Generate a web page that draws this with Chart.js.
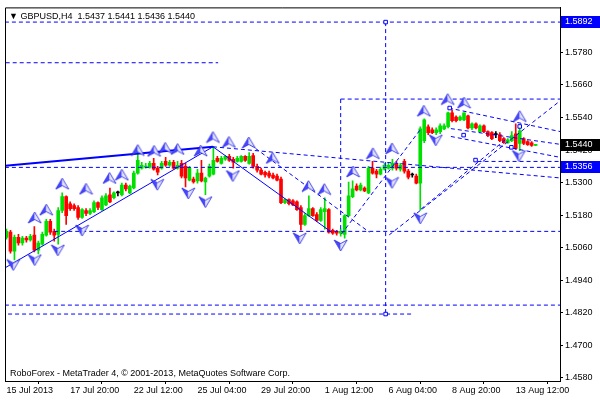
<!DOCTYPE html>
<html>
<head>
<meta charset="utf-8">
<script src="https://cdn.jsdelivr.net/npm/chart.js@4.4.0/dist/chart.umd.min.js"></script>
<style>
  html, body { margin:0; padding:0; background:#fff; }
  #wrap { position:relative; width:600px; height:400px; }
</style>
</head>
<body>
<div id="wrap"><canvas id="c" width="600" height="400"></canvas></div>
<script>
// GBPUSD H4, one entry per bar (bar index 0 = 15 Jul 2013 00:00)
const opens = [
  1.5098,1.5117,1.5047,1.5098,1.5077,1.5095,1.5088,1.5106,1.5051,1.5073,
  1.5106,1.5157,1.5120,1.5109,1.5197,1.5248,1.5222,1.5215,1.5208,1.5171,
  1.5197,1.5186,1.5193,1.5226,1.5200,1.5218,1.5255,1.5244,1.5262,1.5255,
  1.5291,1.5262,1.5280,1.5335,1.5353,1.5357,1.5357,1.5371,1.5353,1.5353,
  1.5378,1.5364,1.5375,1.5353,1.5371,1.5360,1.5309,1.5313,1.5306,1.5335,
  1.5302,1.5324,1.5331,1.5389,1.5371,1.5386,1.5397,1.5386,1.5378,1.5378,
  1.5397,1.5371,1.5400,1.5360,1.5346,1.5338,1.5335,1.5328,1.5324,1.5313,
  1.5226,1.5237,1.5233,1.5229,1.5208,1.5146,1.5178,1.5204,1.5182,1.5160,
  1.5193,1.5200,1.5124,1.5120,1.5113,1.5109,1.5178,1.5248,1.5287,1.5273,
  1.5280,1.5262,1.5353,1.5342,1.5331,1.5349,1.5353,1.5353,1.5368,1.5349,
  1.5378,1.5342,1.5328,1.5324,1.5298,1.5455,1.5506,1.5495,1.5484,1.5488,
  1.5498,1.5506,1.5557,1.5542,1.5531,1.5531,1.5546,1.5502,1.5517,1.5488,
  1.5509,1.5488,1.5484,1.5477,1.5477,1.5462,1.5447,1.5455,1.5480,1.5444,
  1.5462,1.5451,1.5447,1.5437
];
const highs = [
  1.5128,1.5124,1.5106,1.5109,1.5102,1.5102,1.5109,1.5138,1.5084,1.5117,
  1.5164,1.5164,1.5128,1.5208,1.5262,1.5251,1.5229,1.5222,1.5215,1.5204,
  1.5204,1.5204,1.5233,1.5229,1.5251,1.5259,1.5280,1.5266,1.5269,1.5298,
  1.5298,1.5291,1.5342,1.5418,1.5375,1.5371,1.5378,1.5389,1.5360,1.5378,
  1.5393,1.5382,1.5382,1.5378,1.5382,1.5371,1.5360,1.5320,1.5349,1.5382,
  1.5320,1.5368,1.5433,1.5397,1.5397,1.5400,1.5404,1.5393,1.5397,1.5400,
  1.5400,1.5411,1.5408,1.5368,1.5353,1.5342,1.5342,1.5335,1.5331,1.5320,
  1.5240,1.5240,1.5237,1.5233,1.5215,1.5186,1.5251,1.5208,1.5189,1.5208,
  1.5244,1.5204,1.5128,1.5124,1.5128,1.5182,1.5302,1.5306,1.5295,1.5298,
  1.5284,1.5360,1.5378,1.5349,1.5357,1.5371,1.5371,1.5386,1.5378,1.5371,
  1.5386,1.5349,1.5335,1.5331,1.5506,1.5535,1.5513,1.5502,1.5502,1.5517,
  1.5517,1.5560,1.5568,1.5546,1.5546,1.5557,1.5549,1.5520,1.5520,1.5513,
  1.5513,1.5491,1.5488,1.5488,1.5484,1.5466,1.5462,1.5488,1.5517,1.5513,
  1.5466,1.5455,1.5451,1.5441
];
const lows = [
  1.5091,1.5040,1.5015,1.5069,1.5069,1.5080,1.5084,1.5044,1.5037,1.5069,
  1.5102,1.5109,1.5084,1.5073,1.5189,1.5146,1.5197,1.5197,1.5164,1.5168,
  1.5178,1.5182,1.5189,1.5200,1.5197,1.5215,1.5226,1.5240,1.5251,1.5251,
  1.5269,1.5259,1.5277,1.5331,1.5349,1.5353,1.5353,1.5346,1.5328,1.5349,
  1.5360,1.5360,1.5349,1.5349,1.5317,1.5284,1.5306,1.5298,1.5298,1.5302,
  1.5255,1.5320,1.5328,1.5375,1.5368,1.5382,1.5378,1.5353,1.5375,1.5375,
  1.5378,1.5368,1.5353,1.5338,1.5328,1.5320,1.5317,1.5313,1.5306,1.5222,
  1.5222,1.5218,1.5215,1.5197,1.5124,1.5142,1.5175,1.5175,1.5157,1.5157,
  1.5128,1.5113,1.5109,1.5106,1.5102,1.5095,1.5175,1.5244,1.5269,1.5269,
  1.5266,1.5259,1.5331,1.5317,1.5328,1.5346,1.5349,1.5346,1.5346,1.5342,
  1.5335,1.5313,1.5320,1.5295,1.5197,1.5447,1.5477,1.5480,1.5477,1.5480,
  1.5495,1.5502,1.5524,1.5524,1.5528,1.5528,1.5498,1.5495,1.5498,1.5484,
  1.5484,1.5469,1.5458,1.5466,1.5451,1.5444,1.5444,1.5451,1.5422,1.5418,
  1.5440,1.5437,1.5433,1.5436
];
const closes = [
  1.5120,1.5047,1.5098,1.5077,1.5095,1.5088,1.5102,1.5051,1.5077,1.5109,
  1.5157,1.5117,1.5106,1.5197,1.5248,1.5178,1.5204,1.5204,1.5171,1.5200,
  1.5186,1.5197,1.5226,1.5208,1.5244,1.5251,1.5229,1.5262,1.5262,1.5291,
  1.5277,1.5287,1.5335,1.5382,1.5364,1.5360,1.5371,1.5349,1.5338,1.5371,
  1.5364,1.5375,1.5353,1.5364,1.5324,1.5317,1.5353,1.5302,1.5335,1.5306,
  1.5317,1.5360,1.5382,1.5378,1.5389,1.5397,1.5382,1.5375,1.5389,1.5397,
  1.5382,1.5397,1.5360,1.5346,1.5331,1.5328,1.5324,1.5317,1.5309,1.5226,
  1.5237,1.5222,1.5218,1.5200,1.5146,1.5178,1.5204,1.5178,1.5160,1.5200,
  1.5204,1.5117,1.5113,1.5113,1.5120,1.5178,1.5251,1.5277,1.5273,1.5291,
  1.5269,1.5353,1.5335,1.5331,1.5349,1.5364,1.5364,1.5371,1.5353,1.5364,
  1.5342,1.5320,1.5328,1.5298,1.5498,1.5531,1.5484,1.5484,1.5495,1.5509,
  1.5509,1.5557,1.5528,1.5528,1.5542,1.5557,1.5502,1.5517,1.5502,1.5509,
  1.5488,1.5473,1.5462,1.5477,1.5455,1.5447,1.5458,1.5473,1.5426,1.5491,
  1.5444,1.5440,1.5437,1.5440
];

const timeTicks  = [0, 16, 32, 48, 64, 80, 96, 112, 128];
const timeLabels = ["15 Jul 2013","17 Jul 20:00","22 Jul 12:00","25 Jul 04:00","29 Jul 20:00",
                    "1 Aug 12:00","6 Aug 04:00","8 Aug 20:00","13 Aug 12:00"];
const priceTicks = [1.4580,1.4700,1.4820,1.4940,1.5060,1.5180,1.5300,1.5420,1.5540,1.5660,1.5780];

// analysis objects, [bar, price]
const upArrows = [
  [7.1,1.5171],[10,1.5200],[14,1.5296],[20,1.5277],[25.9,1.5317],[29,1.5329],
  [33,1.5420],[37.1,1.5417],[39.9,1.5428],[43,1.5424],[48.8,1.5418],[51.9,1.5468],
  [55.9,1.5450],[60.9,1.5448],[66.9,1.5391],[75.9,1.5287],[79.9,1.5276],[87.1,1.5341],
  [92.1,1.5408],[96.9,1.5426],[104.9,1.5565],[110.9,1.5608],[115,1.5595],[129,1.5545]
];
const downArrows = [
  [1.7,1.4996],[7.1,1.5014],[12.9,1.5050],[19,1.5123],[37.9,1.5292],[45.7,1.5260],
  [50,1.5228],[56.9,1.5324],[73.7,1.5094],[84,1.5068],[96.9,1.5299],[104,1.5168],
  [107.9,1.5456],[128.8,1.5398]
];
const anchors = [
  [95.3,1.5892],[95.3,1.4815],[111.4,1.5575],[114.9,1.5475],[117.9,1.5383],[126.9,1.5430],[129,1.5507]
];
const solidLines = [
  [[-0.3,1.5362],[51.9,1.5432]],
  [[-0.3,1.4986],[51.9,1.5432]],
  [[51.9,1.5432],[81.7,1.5117]]
];
const dashedLines = [
  [[-0.4,1.5892],[139.2,1.5892]],
  [[-0.2,1.5742],[53.2,1.5742]],
  [[95.3,1.5892],[95.3,1.4815]],
  [[0.4,1.4815],[102.2,1.4815]],
  [[-0.4,1.4848],[139.2,1.4848]],
  [[12,1.5120],[139.2,1.5120]],
  [[-0.4,1.5356],[139.2,1.5356]],
  [[84,1.5608],[139.2,1.5608]],
  [[84,1.5608],[84,1.5120]],
  [[51.9,1.5432],[139.2,1.5317]],
  [[96.2,1.5107],[139.2,1.5602]],
  [[61.2,1.5441],[91.2,1.5117]],
  [[84.2,1.5110],[104.2,1.5499]],
  [[111.2,1.5575],[139.2,1.5488]],
  [[111.7,1.5499],[139.2,1.5441]],
  [[111.7,1.5470],[139.2,1.5393]],
  [[118.4,1.5378],[139.2,1.5378]],
  [[104.2,1.5202],[125.8,1.5463]]
];
const priceBoxes = [[1.5892,"#0000ff"],[1.5356,"#0000ff"],[1.5440,"#000000"]];
const titleText = "GBPUSD,H4  1.5437 1.5441 1.5436 1.5440";
const footText  = "RoboForex - MetaTrader 4, \u00a9 2001-2013, MetaQuotes Software Corp.";

const FONT = "9px 'Liberation Sans', Arial, sans-serif";
const BLUE = "#0000ff";

function candleColor(i) {
  if (closes[i] > opens[i]) return "#00e000";
  if (closes[i] < opens[i]) return "#ff0000";
  return "#000000";
}

function makeArrow(up) {
  const c = document.createElement("canvas");
  c.width = 15; c.height = 13;
  const g = c.getContext("2d");
  if (!up) { g.translate(0, 13); g.scale(1, -1); }
  g.beginPath(); g.moveTo(7.5,1); g.lineTo(1,12); g.lineTo(7.5,8.5); g.closePath();
  g.fillStyle = "#4848ff"; g.fill();
  g.beginPath(); g.moveTo(7.5,1); g.lineTo(14,12); g.lineTo(7.5,8.5); g.closePath();
  g.fillStyle = "#e4e4ff"; g.fill();
  g.beginPath(); g.moveTo(7.5,1); g.lineTo(14,12); g.lineTo(7.5,8.5); g.lineTo(1,12); g.closePath();
  g.strokeStyle = "#2020e0"; g.lineWidth = 0.8; g.stroke();
  return c;
}

const segDataset = (seg, dash, width) => ({
  type: "line",
  data: seg.map(p => ({x: p[0], y: p[1]})),
  borderColor: BLUE, borderWidth: width, borderDash: dash,
  pointRadius: 0, fill: false, tension: 0, order: 1
});

const datasets = [];
solidLines.forEach((s, k) => datasets.push(segDataset(s, [], k === 0 ? 2 : 1)));
dashedLines.forEach(s => datasets.push(segDataset(s, [4, 3], 1)));
datasets.push({
  type: "bar",
  data: opens.map((o, i) => ({x: i, y: [lows[i], highs[i]]})),
  backgroundColor: opens.map((o, i) => candleColor(i)),
  barThickness: 1, borderWidth: 0, order: 3, grouped: false
});
datasets.push({
  type: "bar",
  data: opens.map((o, i) => ({x: i, y: [o, closes[i]]})),
  backgroundColor: opens.map((o, i) => candleColor(i)),
  barThickness: 3, borderWidth: 0, minBarLength: 1, order: 2, grouped: false
});
datasets.push({
  type: "scatter",
  data: upArrows.map(p => ({x: p[0], y: p[1]})),
  pointStyle: makeArrow(true), order: 0
});
datasets.push({
  type: "scatter",
  data: downArrows.map(p => ({x: p[0], y: p[1]})),
  pointStyle: makeArrow(false), order: 0
});
datasets.push({
  type: "scatter",
  data: anchors.map(p => ({x: p[0], y: p[1]})),
  pointStyle: "rect", pointRadius: 2.5, borderWidth: 1,
  borderColor: BLUE, backgroundColor: "#fff", order: 0
});

const frame = {
  id: "frame",
  afterDraw(chart) {
    const {ctx, chartArea: a, scales: {y}} = chart;
    ctx.save();
    ctx.strokeStyle = "#000"; ctx.lineWidth = 1;
    ctx.beginPath();
    ctx.moveTo(a.left + 0.5, a.bottom); ctx.lineTo(a.left + 0.5, a.top + 0.5); ctx.lineTo(a.right, a.top + 0.5);
    ctx.stroke();
    ctx.font = FONT; ctx.textBaseline = "middle";
    priceBoxes.forEach(([v, bg]) => {
      const py = Math.round(y.getPixelForValue(v));
      ctx.fillStyle = bg; ctx.fillRect(a.right + 1, py - 6, 39, 12);
      ctx.fillStyle = "#fff"; ctx.textAlign = "left";
      ctx.fillText(v.toFixed(4), a.right + 5, py);
    });
    ctx.fillStyle = "#000";
    ctx.fillText("\u25BC " + titleText, a.left + 4, a.top + 9);
    ctx.fillText(footText, a.left + 5, a.bottom - 7);
    ctx.restore();
  }
};

new Chart(document.getElementById("c"), {
  type: "bar",
  data: { datasets },
  options: {
    responsive: false, animation: false, devicePixelRatio: 1,
    layout: { padding: { left: 2, top: 2, right: 0, bottom: 0 } },
    plugins: { legend: { display: false }, tooltip: { enabled: false } },
    scales: {
      x: {
        type: "linear", min: -0.375, max: 139.125, offset: false,
        afterBuildTicks: s => { s.ticks = timeTicks.map(v => ({value: v})); },
        afterFit: s => { s.height = 19; },
        grid: { drawOnChartArea: false, tickLength: 3, color: "#000" },
        border: { color: "#000" },
        ticks: { align: "start", padding: 1, color: "#000", font: { family: "'Liberation Sans', Arial", size: 9 },
                 maxRotation: 0, autoSkip: false,
                 callback: v => timeLabels[timeTicks.indexOf(v)] }
      },
      y: {
        type: "linear", position: "right", min: 1.4568, max: 1.594618,
        afterBuildTicks: s => { s.ticks = priceTicks.map(v => ({value: v})); },
        afterFit: s => { s.width = 40; },
        grid: { drawOnChartArea: false, tickLength: 3, color: "#000" },
        border: { color: "#000" },
        ticks: { padding: 2, color: "#000", font: { family: "'Liberation Sans', Arial", size: 9 },
                 callback: v => v.toFixed(4) }
      }
    }
  },
  plugins: [frame]
});
</script>
</body>
</html>
